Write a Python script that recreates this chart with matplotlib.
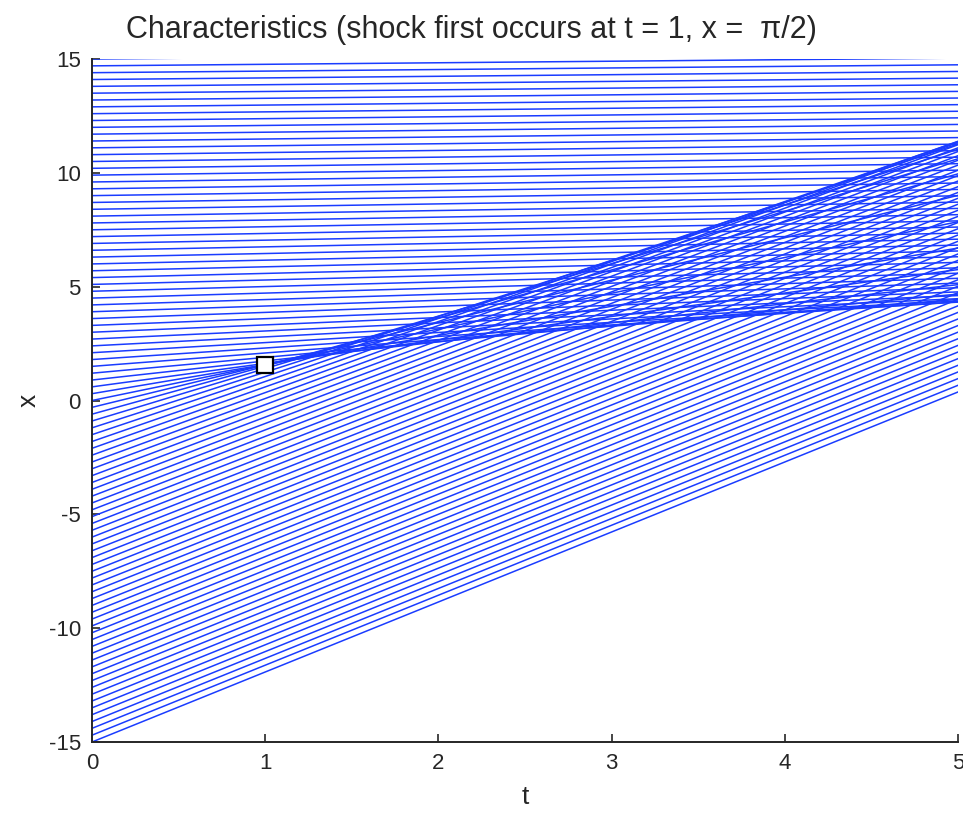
"""Characteristics of Burgers' equation, showing where the first shock forms."""

import matplotlib
matplotlib.use("Agg")
import matplotlib.pyplot as plt

# starting positions of the characteristics at t = 0
x_start = [
    -15.0, -14.7, -14.4, -14.1, -13.8, -13.5, -13.2, -12.9, -12.6, -12.3,
    -12.0, -11.7, -11.4, -11.1, -10.8, -10.5, -10.2, -9.9, -9.6, -9.3,
    -9.0, -8.7, -8.4, -8.1, -7.8, -7.5, -7.2, -6.9, -6.6, -6.3,
    -6.0, -5.7, -5.4, -5.1, -4.8, -4.5, -4.2, -3.9, -3.6, -3.3,
    -3.0, -2.7, -2.4, -2.1, -1.8, -1.5, -1.2, -0.9, -0.6, -0.3,
    0.0,
    0.3, 0.6, 0.9, 1.2, 1.5, 1.8, 2.1, 2.4, 2.7, 3.0,
    3.3, 3.6, 3.9, 4.2, 4.5, 4.8, 5.1, 5.4, 5.7, 6.0,
    6.3, 6.6, 6.9, 7.2, 7.5, 7.8, 8.1, 8.4, 8.7, 9.0,
    9.3, 9.6, 9.9, 10.2, 10.5, 10.8, 11.1, 11.4, 11.7, 12.0,
    12.3, 12.6, 12.9, 13.2, 13.5, 13.8, 14.1, 14.4, 14.7, 15.0,
]

# slope dx/dt of each characteristic (initial speed)
speed = [
    3.0750, 3.0737, 3.0723, 3.0708, 3.0693, 3.0677, 3.0660, 3.0642, 3.0624, 3.0605,
    3.0585, 3.0563, 3.0541, 3.0518, 3.0493, 3.0466, 3.0439, 3.0409, 3.0378, 3.0345,
    3.0309, 3.0272, 3.0231, 3.0188, 3.0141, 3.0090, 3.0036, 2.9977, 2.9912, 2.9842,
    2.9765, 2.9679, 2.9585, 2.9480, 2.9362, 2.9229, 2.9079, 2.8906, 2.8707, 2.8473,
    2.8198, 2.7869, 2.7468, 2.6972, 2.6345, 2.5536, 2.4469, 2.3036, 2.1112, 1.8623,
    1.5708,
    1.2793, 1.0304, 0.8380, 0.6947, 0.5880, 0.5071, 0.4444, 0.3948, 0.3547, 0.3218,
    0.2943, 0.2709, 0.2510, 0.2337, 0.2187, 0.2054, 0.1936, 0.1831, 0.1737, 0.1651,
    0.1574, 0.1504, 0.1439, 0.1380, 0.1326, 0.1275, 0.1228, 0.1185, 0.1144, 0.1107,
    0.1071, 0.1038, 0.1007, 0.0977, 0.0950, 0.0923, 0.0898, 0.0875, 0.0853, 0.0831,
    0.0811, 0.0792, 0.0774, 0.0756, 0.0739, 0.0723, 0.0708, 0.0693, 0.0679, 0.0666,
]

t_range = [0, 5]
shock_t = 1.0
shock_x = 1.5708  # pi/2

x_ticks = [0, 1, 2, 3, 4, 5]
y_ticks = [-15, -10, -5, 0, 5, 10, 15]

plt.rcParams["font.family"] = ["Liberation Sans", "DejaVu Sans"]
plt.rcParams["axes.unicode_minus"] = False

fig = plt.figure(figsize=(9.63, 8.21), dpi=100)
ax = fig.add_axes([0.0955, 0.0962, 0.8993, 0.8319])

for x0, u in zip(x_start, speed):
    ax.plot(t_range, [x0 + t * u for t in t_range], color="#1a3cff", linewidth=1.1)

ax.plot([shock_t], [shock_x], marker="s", markersize=11, markerfacecolor="white",
        markeredgecolor="black", markeredgewidth=1.6, linestyle="none", zorder=5)

ax.set_xlim(0, 5)
ax.set_ylim(-15, 15)
ax.set_xticks(x_ticks)
ax.set_yticks(y_ticks)
ax.tick_params(direction="in", length=6, width=1.2, color="#262626",
               labelsize=16, labelcolor="#262626", pad=8)
for side in ["top", "right"]:
    ax.spines[side].set_visible(False)
for side in ["left", "bottom"]:
    ax.spines[side].set_color("#262626")
    ax.spines[side].set_linewidth(1.4)

ax.set_xlabel("t", fontsize=19, color="#262626", labelpad=8)
ax.set_ylabel("x", fontsize=19, color="#262626", labelpad=6, rotation=90)
ax.set_title("Characteristics (shock first occurs at t = 1, x =  \u03c0/2)",
             fontsize=22, color="#262626", pad=15, x=0.4376)

fig.savefig("out.png", dpi=100)
